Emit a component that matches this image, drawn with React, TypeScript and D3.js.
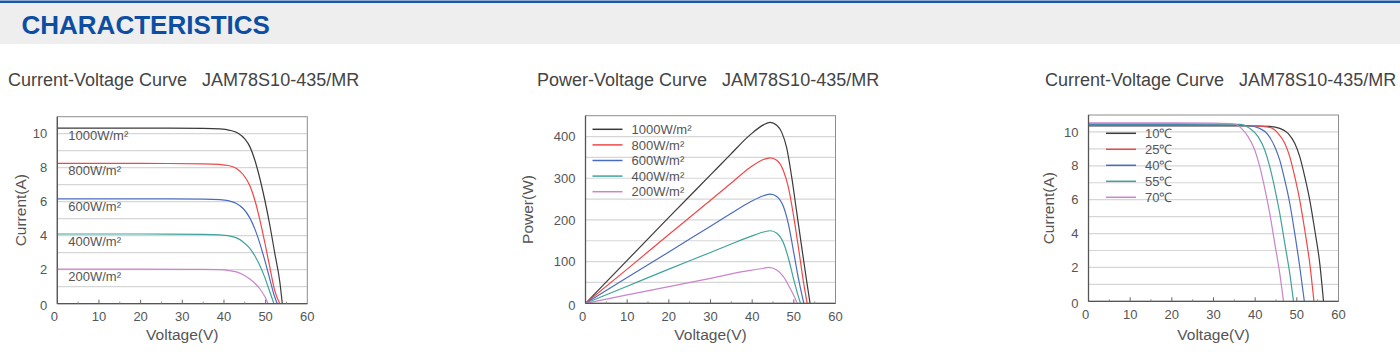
import React from 'react';
import * as d3 from 'd3';

// ---- data ----
const voltageTicks = [0, 10, 20, 30, 40, 50, 60];
const currentTicks = [0, 2, 4, 6, 8, 10];
const powerTicks = [0, 100, 200, 300, 400];

const irradianceLabels = ['1000W/m²', '800W/m²', '600W/m²', '400W/m²', '200W/m²'];
const temperatureLabels = ['10℃', '25℃', '40℃', '55℃', '70℃'];
const seriesColors = ['#3a3a3a', '#f04848', '#4a6cc0', '#3fa39b', '#c985c9'];

// I-V at different irradiance, [V, A]
const iv1000: [number, number][] = [[0, 10.33], [20, 10.33], [35, 10.31], [39, 10.28], [41.4, 10.2], [43.4, 10.02], [45, 9.69], [46.2, 9.24], [47.4, 8.45], [48.6, 7.38], [49.8, 6.1], [51, 4.63], [52.2, 2.96], [53.4, 1.29], [54, 0]];
const iv800: [number, number][] = [[0, 8.25], [20, 8.25], [35, 8.23], [39, 8.19], [41, 8.13], [43, 7.96], [44.6, 7.6], [46.2, 6.95], [47.4, 6.1], [48.6, 4.95], [49.8, 3.6], [51, 2.15], [52.2, 0.75], [53.4, 0]];
const iv600: [number, number][] = [[0, 6.17], [20, 6.17], [35, 6.15], [39, 6.12], [41, 6.06], [43, 5.9], [44.6, 5.6], [46.2, 5.05], [47.4, 4.4], [48.6, 3.55], [49.8, 2.55], [51, 1.45], [52.1, 0.45], [52.8, 0]];
const iv400: [number, number][] = [[0, 4.1], [20, 4.1], [35, 4.08], [39, 4.05], [41, 4.0], [43, 3.87], [44.6, 3.63], [46.2, 3.25], [47.4, 2.82], [48.6, 2.25], [49.8, 1.55], [51, 0.7], [52, 0]];
const iv200: [number, number][] = [[0, 2.03], [20, 2.03], [35, 2.02], [39, 2.0], [41, 1.96], [43, 1.87], [44.6, 1.7], [46.2, 1.45], [47.4, 1.2], [48.6, 0.88], [49.8, 0.42], [50.6, 0]];

// P-V at different irradiance, [V, W]
const pv1000: [number, number][] = [[0, 0], [10, 103], [20, 206], [30, 308], [34.7, 356], [39.5, 404], [42.7, 428], [44.3, 434], [45.9, 427], [47.1, 410], [48.3, 372], [49.5, 302], [50.7, 218], [51.9, 134], [53.1, 52], [53.9, 0]];
const pv800: [number, number][] = [[0, 0], [10, 82], [20, 165], [30, 247], [34.7, 286], [39.5, 326], [42.7, 345], [44.3, 349], [45.9, 343], [47.5, 318], [48.7, 278], [49.9, 212], [51.1, 134], [52.3, 52], [53.2, 0]];
const pv600: [number, number][] = [[0, 0], [10, 62], [20, 123], [30, 185], [34.7, 214], [39.5, 243], [42.7, 258], [44.4, 262], [45.9, 256], [47.5, 232], [48.7, 190], [49.9, 126], [51.1, 60], [52.4, 0]];
const pv400: [number, number][] = [[0, 0], [10, 41], [20, 82], [30, 122], [34.7, 141], [39.5, 160], [42.7, 171], [44.4, 174], [45.9, 168], [47.5, 145], [48.7, 108], [49.9, 60], [51.1, 16], [51.6, 0]];
const pv200: [number, number][] = [[0, 0], [10, 20], [20, 40], [30, 60], [34.7, 70], [39.5, 79], [42.7, 84], [43.9, 86], [45.9, 80], [47.5, 64], [49.1, 36], [50.3, 12], [50.8, 0]];

// I-V at different cell temperature, [V, A]
const ivT10: [number, number][] = [[0, 10.35], [20, 10.35], [35, 10.35], [40, 10.35], [43.5, 10.33], [45.9, 10.21], [47.9, 9.92], [49.5, 9.33], [50.7, 8.54], [51.9, 7.36], [53.1, 5.98], [54.3, 4.21], [55.5, 2.24], [56.4, 0]];
const ivT25: [number, number][] = [[0, 10.39], [20, 10.39], [35, 10.38], [40.3, 10.36], [43.5, 10.27], [45.5, 9.92], [47.1, 9.33], [48.3, 8.54], [49.5, 7.36], [50.7, 5.98], [51.9, 4.21], [53.1, 2.24], [54.1, 0]];
const ivT40: [number, number][] = [[0, 10.43], [20, 10.43], [30, 10.42], [37.9, 10.38], [41.1, 10.21], [43.1, 9.82], [44.7, 9.13], [45.9, 8.34], [47.1, 7.16], [48.3, 5.79], [49.5, 4.01], [50.7, 2.04], [51.8, 0]];
const ivT55: [number, number][] = [[0, 10.48], [20, 10.48], [30, 10.47], [36.3, 10.45], [38.7, 10.21], [40.7, 9.72], [42.3, 8.93], [43.5, 7.95], [44.7, 6.67], [45.9, 5.19], [47.1, 3.42], [48.3, 1.65], [49.2, 0]];
const ivT70: [number, number][] = [[0, 10.54], [20, 10.54], [30, 10.52], [35.1, 10.47], [36.7, 10.21], [38.3, 9.72], [39.9, 8.93], [41.1, 7.95], [42.3, 6.67], [43.5, 5.19], [44.7, 3.42], [45.9, 1.65], [46.8, 0]];

const FONT = "Arial, 'Liberation Sans', sans-serif";

type PanelProps = {
  left: number;
  right: number;
  top: number;
  bottom: number;
  yMax: number;
  yTicks: number[];
  gridStep: number;
  series: [number, number][][];
  yLabel: string;
  yLabelX: number;
  title: string;
  titleX: number;
  curveLabels?: string[];
  legend?: { labels: string[]; x: number; y: number; step: number };
};

const Panel: React.FC<PanelProps> = (p) => {
  const x = d3.scaleLinear().domain([0, 60]).range([p.left, p.right]);
  const y = d3.scaleLinear().domain([0, p.yMax]).range([p.bottom, p.top]);
  const line = d3
    .line<[number, number]>()
    .x((d) => x(d[0]))
    .y((d) => y(d[1]))
    .curve(d3.curveMonotoneX);
  const grid = d3.range(p.gridStep, p.yMax, p.gridStep);
  const minorX = d3.range(5, 60, 10);

  return (
    <g fontFamily={FONT}>
      <text x={p.titleX} y={86} fontSize={18} fill="#444" style={{ whiteSpace: 'pre' }}>
        {p.title}
      </text>

      {grid.map((g) => (
        <line key={g} x1={p.left} x2={p.right} y1={y(g)} y2={y(g)} stroke="#d6d6d6" strokeWidth={1.2} />
      ))}
      <rect x={p.left} y={p.top} width={p.right - p.left} height={p.bottom - p.top} fill="none" stroke="#8e8e8e" strokeWidth={1} />

      {p.series.map((s, i) => (
        <path key={i} d={line(s) || ''} fill="none" stroke={seriesColors[i]} strokeWidth={1.2} />
      ))}

      {p.curveLabels &&
        p.curveLabels.map((l, i) => (
          <text key={l} x={p.left + 11} y={y(p.series[i][0][1]) + 12} fontSize={13} fill="#555">
            {l}
          </text>
        ))}

      {p.legend &&
        p.legend.labels.map((l, i) => (
          <g key={l}>
            <line
              x1={p.legend!.x}
              x2={p.legend!.x + 30}
              y1={p.legend!.y + i * p.legend!.step}
              y2={p.legend!.y + i * p.legend!.step}
              stroke={seriesColors[i]}
              strokeWidth={1.5}
            />
            <text x={p.legend!.x + 39} y={p.legend!.y + i * p.legend!.step + 4.6} fontSize={13} fill="#555">
              {l}
            </text>
          </g>
        ))}

      {/* axes */}
      <line x1={p.left} x2={p.left} y1={p.top} y2={p.bottom} stroke="#555" strokeWidth={1.3} />
      <line x1={p.left} x2={p.right} y1={p.bottom} y2={p.bottom} stroke="#555" strokeWidth={1.3} />
      {voltageTicks.slice(1, -1).map((t) => (
        <line key={t} x1={x(t)} x2={x(t)} y1={p.bottom} y2={p.bottom - 4} stroke="#666" strokeWidth={1} />
      ))}
      {minorX.map((t) => (
        <line key={t} x1={x(t)} x2={x(t)} y1={p.bottom} y2={p.bottom - 2} stroke="#888" strokeWidth={1} />
      ))}
      {voltageTicks.map((t) => (
        <text key={t} x={x(t) - (t === 0 ? 3 : 0)} y={p.bottom + 17.5} fontSize={13} fill="#555" textAnchor="middle">
          {t}
        </text>
      ))}
      {p.yTicks.map((t) => (
        <text key={t} x={p.left - 10} y={y(t) + 4.6 + (t === 0 ? 2 : 0)} fontSize={13} fill="#555" textAnchor="end">
          {t}
        </text>
      ))}
      <text
        transform={`translate(${p.yLabelX},${(p.top + p.bottom) / 2}) rotate(-90)`}
        fontSize={15.5}
        fill="#555"
        textAnchor="middle"
      >
        {p.yLabel}
      </text>
      <text x={(p.left + p.right) / 2} y={340} fontSize={15.5} fill="#555" textAnchor="middle">
        Voltage(V)
      </text>
    </g>
  );
};

export default function App() {
  return (
    <svg
      width={1400}
      height={352}
      viewBox="0 0 1400 352"
      style={{ position: 'absolute', left: 0, top: 0, background: '#fff' }}
    >
      <rect x={0} y={0} width={1400} height={352} fill="#fff" />
      <rect x={0} y={3} width={1400} height={41} fill="#eeeeee" />
      <rect x={0} y={0.5} width={1400} height={2.5} fill="#1d56a6" />
      <text x={21.5} y={34} fontFamily={FONT} fontWeight="bold" fontSize={26} fill="#0d4ea3">
        CHARACTERISTICS
      </text>

      <Panel
        left={57.3}
        right={307.3}
        top={116.7}
        bottom={303.7}
        yMax={11}
        yTicks={currentTicks}
        gridStep={1}
        series={[iv1000, iv800, iv600, iv400, iv200]}
        yLabel="Current(A)"
        yLabelX={25.5}
        title="Current-Voltage Curve   JAM78S10-435/MR"
        titleX={8}
        curveLabels={irradianceLabels}
      />
      <Panel
        left={585.5}
        right={835.5}
        top={115.7}
        bottom={303.3}
        yMax={450}
        yTicks={powerTicks}
        gridStep={50}
        series={[pv1000, pv800, pv600, pv400, pv200]}
        yLabel="Power(W)"
        yLabelX={533}
        title="Power-Voltage Curve   JAM78S10-435/MR"
        titleX={537}
        legend={{ labels: irradianceLabels, x: 592.5, y: 129.3, step: 15.6 }}
      />
      <Panel
        left={1088.5}
        right={1338.5}
        top={115}
        bottom={301.3}
        yMax={11}
        yTicks={currentTicks}
        gridStep={1}
        series={[ivT10, ivT25, ivT40, ivT55, ivT70]}
        yLabel="Current(A)"
        yLabelX={1054}
        title="Current-Voltage Curve   JAM78S10-435/MR"
        titleX={1045}
        legend={{ labels: temperatureLabels, x: 1106, y: 133.3, step: 16 }}
      />
    </svg>
  );
}
